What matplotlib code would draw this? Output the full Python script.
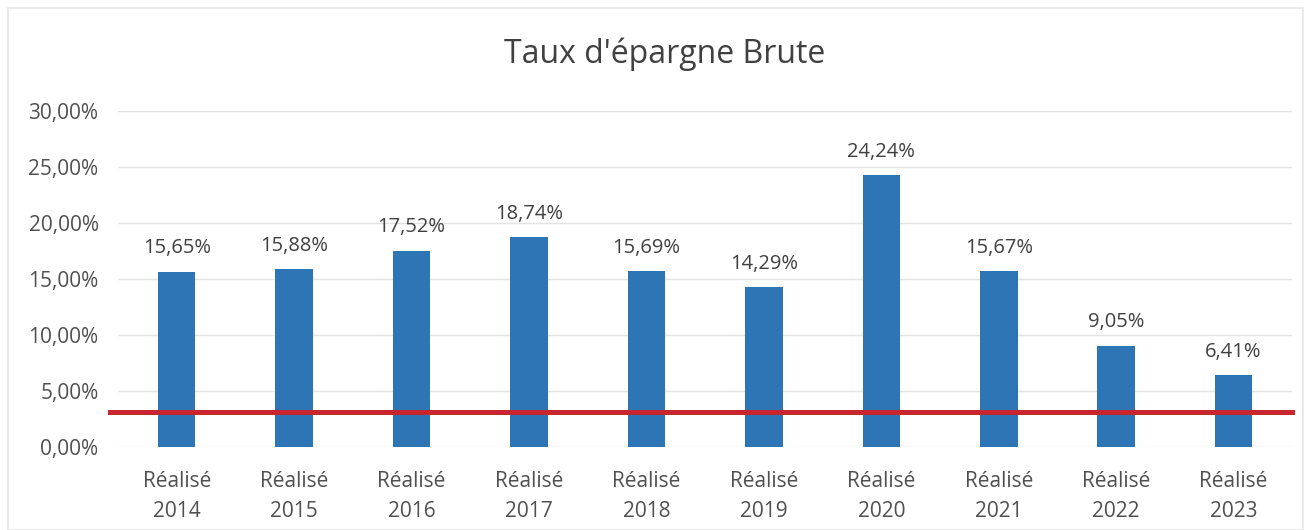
import matplotlib
matplotlib.use('Agg')
import matplotlib.pyplot as plt
from matplotlib.ticker import FuncFormatter
from matplotlib.patches import Rectangle

plt.rcParams['font.family'] = ['Open Sans', 'DejaVu Sans']

# données
annees = ['2014', '2015', '2016', '2017', '2018', '2019', '2020', '2021', '2022', '2023']
taux = [15.65, 15.88, 17.52, 18.74, 15.69, 14.29, 24.24, 15.67, 9.05, 6.41]
seuil = 3.1
categories = ['Réalisé\n' + a for a in annees]

fig = plt.figure(figsize=(13.08, 5.3), dpi=100)
ax = fig.add_axes([0.0902, 0.1566, 0.8978, 0.634])

x = range(len(categories))
bars = ax.bar(x, taux, width=0.32, color='#2E75B6', zorder=2)

for b, v in zip(bars, taux):
    ax.text(b.get_x() + b.get_width() / 2, v + 1.2, f'{v:.2f}%'.replace('.', ','),
            ha='center', va='bottom', fontsize=14.5, color='#404040')

ax.axhline(seuil, xmin=-0.007, xmax=1.0, color='#C8262E', linewidth=3.6, zorder=3, clip_on=False)

ax.set_ylim(0, 30)
ax.set_xlim(-0.5, len(categories) - 0.5)
ax.set_yticks(range(0, 31, 5))
ax.yaxis.set_major_formatter(FuncFormatter(lambda v, p: f'{v:.2f}%'.replace('.', ',')))
ax.set_xticks(list(x))
ax.set_xticklabels(categories, linespacing=1.6)
ax.tick_params(axis='both', length=0, labelsize=15, labelcolor='#505050')
ax.tick_params(axis='y', pad=14)
ax.tick_params(axis='x', pad=17)
ax.grid(axis='y', color='#E3E3E3', linewidth=1, zorder=0)
for s in ax.spines.values():
    s.set_visible(False)

fig.text(0.508, 0.898, "Taux d'épargne Brute", ha='center', va='center', fontsize=23, color='#404040')

# cadre du graphique
fig.patches.append(Rectangle((0.006, 0.0), 0.99, 0.985, transform=fig.transFigure,
                             fill=False, edgecolor='#E6E6E6', linewidth=1.2))

fig.savefig('out.png', dpi=100)
